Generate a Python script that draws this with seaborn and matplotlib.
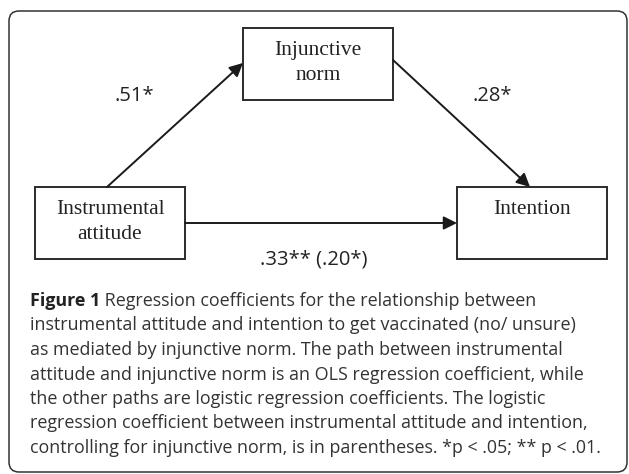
"""
Mediation diagram: instrumental attitude -> injunctive norm -> intention,
with the regression coefficients on each path and the figure caption below.
"""

import matplotlib
matplotlib.use("Agg")
import matplotlib.pyplot as plt
from matplotlib.patches import FancyBboxPatch, Rectangle
import seaborn as sns

# ============================================================
# Data
# ============================================================
node_names = [["Instrumental", "attitude"], ["Injunctive", "norm"], ["Intention"]]
path_labels = [".51*", ".28*", ".33** (.20*)"]
caption_bold = "Figure 1"
caption_lines = [
    " Regression coefficients for the relationship between",
    "instrumental attitude and intention to get vaccinated (no/ unsure)",
    "as mediated by injunctive norm. The path between instrumental",
    "attitude and injunctive norm is an OLS regression coefficient, while",
    "the other paths are logistic regression coefficients. The logistic",
    "regression coefficient between instrumental attitude and intention,",
    "controlling for injunctive norm, is in parentheses. *p < .05; ** p < .01.",
]

# ============================================================
# Layout (pixel space, y down)
# ============================================================
W, H = 629, 474
boxes = {  # x0, y0, x1, y1
    "att": (35, 187, 185, 259),
    "norm": (243, 28, 393, 100),
    "int": (457, 187, 607, 259),
}
label_y = {"att": [210, 234], "norm": [50, 75], "int": [209]}

sns.set_theme(style="white")
plt.rcParams["font.family"] = ["Open Sans", "DejaVu Sans"]

fig = plt.figure(figsize=(W / 100, H / 100), dpi=100)
ax = fig.add_axes([0, 0, 1, 1])
ax.set_xlim(0, W)
ax.set_ylim(H, 0)
ax.axis("off")

# outer rounded frame
frame = FancyBboxPatch((9, 11), 618, 461, boxstyle="round,pad=0,rounding_size=10",
                       fill=False, ec="#333333", lw=1.1)
ax.add_patch(frame)

# node boxes
serif = ["Liberation Serif", "DejaVu Serif"]
for key, name in zip(["att", "norm", "int"], node_names):
    x0, y0, x1, y1 = boxes[key]
    ax.add_patch(Rectangle((x0, y0), x1 - x0, y1 - y0, fill=False,
                           ec="#2b2b2b", lw=1.4))
    cx = (x0 + x1) / 2
    for line, ly in zip(name, label_y[key]):
        ax.text(cx, ly, line, ha="center", va="center", family=serif,
                fontsize=15.5, color="#222222")

# arrows
arrow_kw = dict(arrowstyle="-|>", color="#1a1a1a", lw=1.4,
                mutation_scale=20, shrinkA=0, shrinkB=0)
ax.annotate("", xy=(243, 63), xytext=(107, 187), arrowprops=arrow_kw)
ax.annotate("", xy=(530, 187), xytext=(393, 60), arrowprops=arrow_kw)
ax.annotate("", xy=(457, 223), xytext=(185, 223), arrowprops=arrow_kw)

# path coefficients
coef_kw = dict(ha="center", va="center", fontsize=14.5, color="#222222")
ax.text(134, 96, path_labels[0], **coef_kw)
ax.text(492, 96, path_labels[1], **coef_kw)
ax.text(314, 260, path_labels[2], **coef_kw)

# caption
y = 301
cap_size = 12.9
t = ax.text(30, y, caption_bold, ha="left", va="center", fontsize=cap_size,
            fontweight="bold", color="#222222")
fig.canvas.draw()
x_after = t.get_window_extent().x1  # pixels equal data units here
ax.text(x_after, y, caption_lines[0], ha="left", va="center", fontsize=cap_size,
        color="#333333")
for i, line in enumerate(caption_lines[1:], start=1):
    ax.text(30, y + i * 24.5, line, ha="left", va="center", fontsize=cap_size,
            color="#333333")

plt.savefig("out.png", dpi=100)
